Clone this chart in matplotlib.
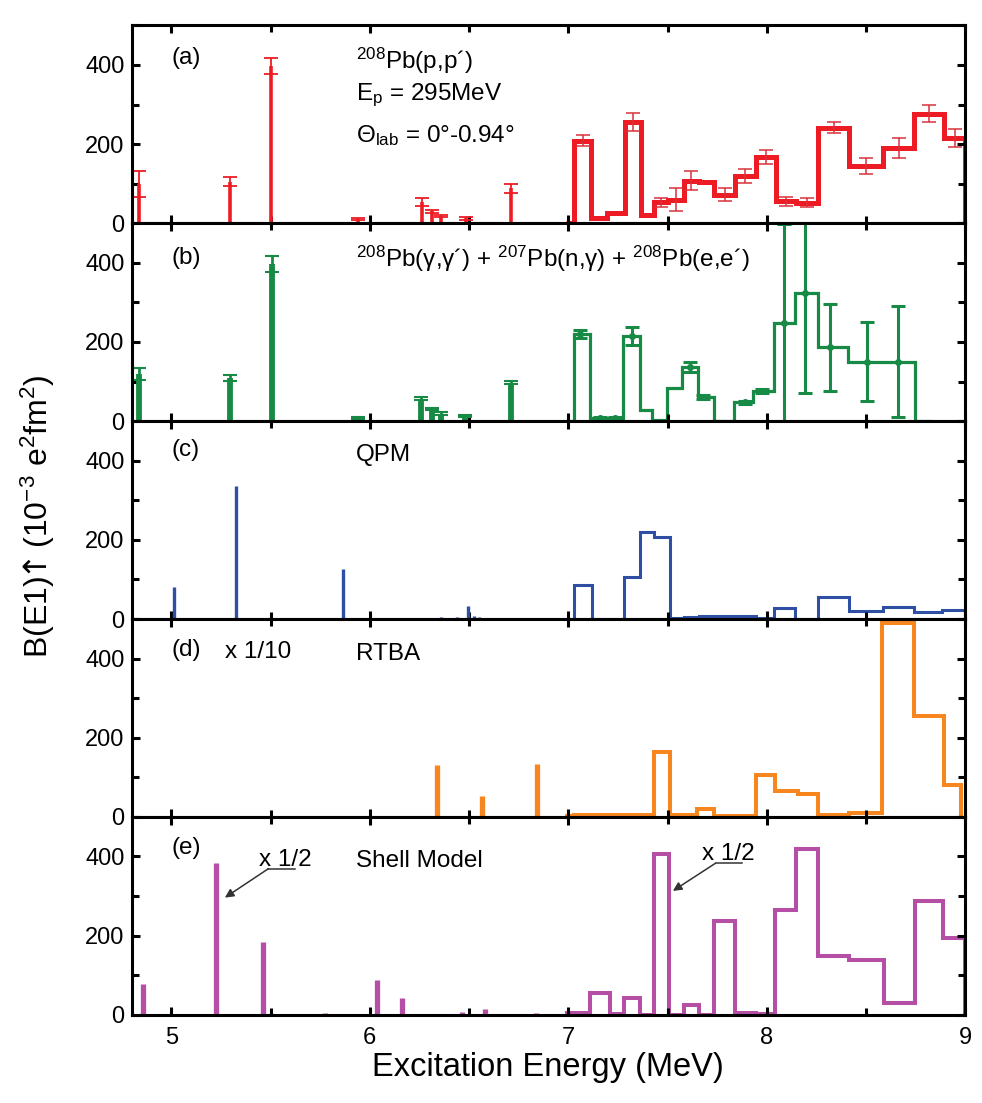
import numpy as np
import matplotlib
matplotlib.use("Agg")
import matplotlib.pyplot as plt
from matplotlib.ticker import MultipleLocator

plt.rcParams["font.family"] = ["Liberation Sans", "DejaVu Sans"]
plt.rcParams["mathtext.fontset"] = "custom"
plt.rcParams["mathtext.rm"] = "Liberation Sans"
plt.rcParams["mathtext.it"] = "Liberation Sans:italic"
plt.rcParams["mathtext.sf"] = "DejaVu Sans"
plt.rcParams["mathtext.default"] = "regular"

# ---- (a) 208Pb(p,p') ----
pp_line_e = [4.837, 5.294, 5.500, 5.942, 6.261, 6.312, 6.357, 6.483, 6.713]
pp_line_b = [100, 105, 398, 11, 53, 30, 18, 12, 88]
pp_line_err = [33, 12, 20, 3, 10, 4, 3, 3, 12]
pp_edges = [6.99, 7.03, 7.116, 7.197, 7.284, 7.365, 7.432, 7.504, 7.583, 7.658, 7.734,
            7.840, 7.944, 8.045, 8.146, 8.260, 8.414, 8.585, 8.742, 8.893, 9.0]
pp_vals = [0, 208, 13, 27, 255, 21, 53, 60, 108, 103, 72, 120, 167, 55, 52, 241, 145, 191, 277, 216]
pp_err = [0, 14, 0, 0, 23, 0, 12, 30, 25, 0, 17, 18, 18, 12, 11, 14, 20, 25, 22, 23]

# ---- (b) (g,g') + (n,g) + (e,e') ----
gg_line_e = [4.837, 5.294, 5.509, 5.942, 6.260, 6.312, 6.360, 6.480, 6.713]
gg_line_b = [118, 109, 396, 8, 57, 31, 19, 13, 97]
gg_line_err = [15, 8, 20, 3, 4, 3, 3, 2, 4]
gg_edges = [6.995, 7.031, 7.11, 7.186, 7.278, 7.362, 7.424, 7.496, 7.575, 7.652, 7.735,
            7.837, 7.928, 8.034, 8.143, 8.26, 8.411, 8.747, 8.831]
gg_vals = [0, 221, 8, 8, 215, 27, 3, 84, 136, 61, 0, 48, 76, 248, 323, 187, 150, 0]
gg_pt_e = [7.06, 7.16, 7.233, 7.323, 7.614, 7.681, 7.89, 7.975, 8.088, 8.192, 8.318, 8.503, 8.659]
gg_pt_b = [221, 8, 8, 215, 136, 61, 48, 76, 248, 323, 187, 150, 150]
gg_pt_err = [10, 3, 3, 23, 13, 4, 4, 5, 250, 251, 110, 100, 140]

# ---- (c) QPM ----
qpm_line_e = [5.014, 5.324, 5.865, 6.189, 6.357, 6.438, 6.495, 6.525, 6.55, 6.701, 6.802]
qpm_line_b = [82, 337, 126, 3, 4, 6, 34, 8, 4, 2, 3]
qpm_edges = [6.99, 7.03, 7.12, 7.28, 7.36, 7.432, 7.51, 7.583, 7.658, 7.734, 7.944,
             8.035, 8.14, 8.26, 8.414, 8.585, 8.742, 8.885, 9.0]
qpm_vals = [0, 86, 0, 105, 219, 206, 3, 6, 8, 8, 3, 29, 0, 55, 21, 31, 18, 22]

# ---- (d) RTBA (x 1/10) ----
rtba_line_e = [6.34, 6.567, 6.84]
rtba_line_b = [131, 53, 133]
rtba_edges = [6.995, 7.03, 7.117, 7.284, 7.434, 7.513, 7.65, 7.736, 7.946, 8.043, 8.155,
              8.26, 8.414, 8.58, 8.742, 8.893, 8.98]
rtba_vals = [2, 6, 4, 5, 163, 6, 19, 2, 106, 65, 58, 4, 10, 489, 254, 80]

# ---- (e) Shell model ----
sm_line_e = [4.857, 5.224, 5.462, 5.773, 6.038, 6.164, 6.463, 6.579, 6.836]
sm_line_b = [77, 383, 183, 5, 87, 42, 7, 15, 4]
sm_edges = [6.995, 7.11, 7.21, 7.28, 7.36, 7.432, 7.505, 7.583, 7.658, 7.736, 7.84,
            7.944, 8.043, 8.146, 8.26, 8.414, 8.588, 8.748, 8.89, 9.0]
sm_vals = [4, 55, 2, 42, 0, 406, 0, 24, 0, 238, 4, 2, 265, 419, 149, 138, 30, 288, 195]

RED, GREEN, BLUE, ORANGE, MAGENTA = "#ed1c24", "#178a45", "#2e4fa3", "#f7861f", "#b54fa6"
FS = 17.5

fig = plt.figure(figsize=(9.82, 11.03), dpi=100)
axes = fig.subplots(5, 1, sharex=True, gridspec_kw=dict(hspace=0))
fig.subplots_adjust(left=0.134, right=0.983, top=0.977, bottom=0.080)

for ax in axes:
    ax.set_xlim(4.8, 9.0)
    ax.set_ylim(0, 500)
    ax.set_yticks([0, 200, 400])
    ax.yaxis.set_minor_locator(MultipleLocator(100))
    ax.set_xticks([5, 6, 7, 8, 9])
    ax.xaxis.set_minor_locator(MultipleLocator(0.5))
    ax.tick_params(which="both", direction="in", top=True, right=True, width=2.2, labelsize=17)
    ax.tick_params(which="major", length=6, pad=5)
    ax.tick_params(which="minor", length=5)
    ax.tick_params(axis="x", pad=9)
    for s in ax.spines.values():
        s.set_linewidth(2.2)

# (a)
ax = axes[0]
ax.vlines(pp_line_e, 0, pp_line_b, color=RED, lw=2.6)
ax.errorbar(pp_line_e, pp_line_b, yerr=pp_line_err, fmt="none", ecolor=RED, elinewidth=1.3,
            capsize=5, capthick=1.3)
ax.stairs(pp_vals, pp_edges, color=RED, lw=3.6, baseline=0)
pp_cent = 0.5 * (np.array(pp_edges[:-1]) + np.array(pp_edges[1:]))
m = np.array(pp_err) > 0
ax.errorbar(pp_cent[m], np.array(pp_vals)[m], yerr=np.array(pp_err)[m], fmt="none",
            ecolor="#d9323c", elinewidth=1.1, capsize=5, capthick=1.1)
ax.text(0.048, 0.836, "(a)", transform=ax.transAxes, fontsize=FS, va="center")
ax.text(0.269, 0.781, "$^{208}$Pb(p,p´)", transform=ax.transAxes, fontsize=FS, va="baseline")
ax.text(0.269, 0.621, "E$_{p}$ = 295MeV", transform=ax.transAxes, fontsize=FS, va="baseline")
ax.text(0.269, 0.411, "Θ$_{lab}$ = 0°-0.94°", transform=ax.transAxes, fontsize=FS, va="baseline")

# (b)
ax = axes[1]
ax.vlines(gg_line_e, 0, gg_line_b, color=GREEN, lw=4.2)
ax.errorbar(gg_line_e, gg_line_b, yerr=gg_line_err, fmt="none", ecolor=GREEN, elinewidth=2,
            capsize=5, capthick=1.5)
ax.stairs(gg_vals, gg_edges, color=GREEN, lw=2.3, baseline=0)
ax.errorbar(gg_pt_e, gg_pt_b, yerr=gg_pt_err, fmt="o", ms=4, color=GREEN, elinewidth=2.2,
            capsize=5, capthick=2.2)
ax.text(0.048, 0.826, "(b)", transform=ax.transAxes, fontsize=FS, va="center")
ax.text(0.269, 0.779, "$^{208}$Pb(γ,γ´) + $^{207}$Pb(n,γ) + $^{208}$Pb(e,e´)",
        transform=ax.transAxes, fontsize=FS, va="baseline")

# (c)
ax = axes[2]
ax.vlines(qpm_line_e, 0, qpm_line_b, color=BLUE, lw=2.4)
ax.stairs(qpm_vals, qpm_edges, color=BLUE, lw=2.2, baseline=0)
ax.text(0.048, 0.854, "(c)", transform=ax.transAxes, fontsize=FS, va="center")
ax.text(0.269, 0.80, "QPM", transform=ax.transAxes, fontsize=FS, va="baseline")

# (d)
ax = axes[3]
ax.vlines(rtba_line_e, 0, rtba_line_b, color=ORANGE, lw=3.8)
ax.stairs(rtba_vals, rtba_edges, color=ORANGE, lw=2.9, baseline=0)
ax.text(0.048, 0.843, "(d)", transform=ax.transAxes, fontsize=FS, va="center")
ax.text(0.112, 0.805, "x 1/10", transform=ax.transAxes, fontsize=FS, va="baseline")
ax.text(0.269, 0.793, "RTBA", transform=ax.transAxes, fontsize=FS, va="baseline")

# (e)
ax = axes[4]
ax.vlines(sm_line_e, 0, sm_line_b, color=MAGENTA, lw=3.8)
ax.stairs(sm_vals, sm_edges, color=MAGENTA, lw=2.9, baseline=0)
ax.text(0.048, 0.843, "(e)", transform=ax.transAxes, fontsize=FS, va="center")
ax.text(0.269, 0.747, "Shell Model", transform=ax.transAxes, fontsize=FS, va="baseline")
for (tx, ty, ux0, ux1, uy, hx, hy) in [(5.443, 376, 5.489, 5.622, 369, 5.27, 296),
                                       (7.674, 390, 7.742, 7.876, 383, 7.527, 313)]:
    ax.text(tx, ty, "x 1/2", fontsize=FS, va="baseline")
    ax.plot([ux0, ux1], [uy, uy], color="#333333", lw=1.1)
    ax.annotate("", xy=(hx, hy), xytext=(ux0, uy),
                arrowprops=dict(arrowstyle="-|>", color="#333333", lw=1.1, mutation_scale=13,
                                shrinkA=0, shrinkB=0))

fig.text(0.558, 0.032, "Excitation Energy (MeV)", ha="center", va="center", fontsize=23.5)
fig.text(0.039, 0.532, r"B(E1)$\!\!\mathsf{\uparrow}\!\!$ (10$^{-3}$ e$^{2}$fm$^{2}$)",
         ha="center", va="center", rotation=90, fontsize=23)

fig.savefig("out.png", dpi=100)
